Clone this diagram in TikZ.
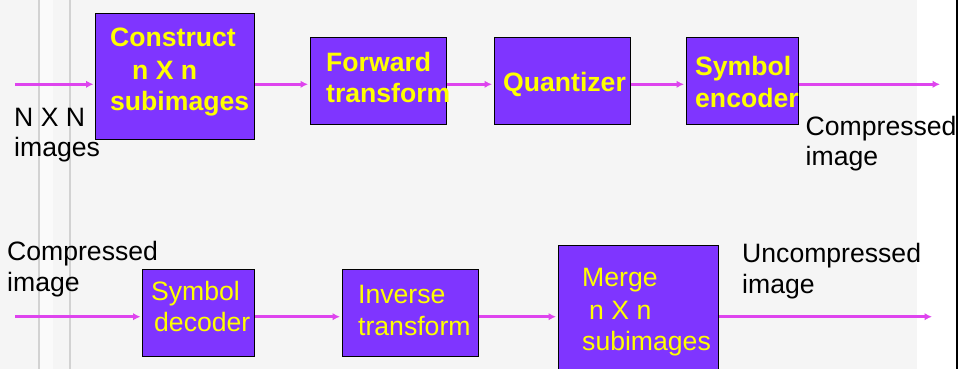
\documentclass[tikz,border=0pt]{standalone}
\usepackage{fontspec}
\setmainfont{Liberation Sans}
\usetikzlibrary{arrows.meta}
\definecolor{bgc}{HTML}{F5F5F5}
\definecolor{stripc}{HTML}{FAFAFA}
\definecolor{edgec}{HTML}{D2D2D2}
\definecolor{boxfill}{RGB}{127,53,255}
\definecolor{arrc}{RGB}{222,68,238}
\definecolor{ylw}{RGB}{255,255,0}
\begin{document}
\begin{tikzpicture}[x=1pt,y=-1pt,
  blk/.style={draw=black, line width=1.3pt, fill=boxfill, inner sep=0pt, anchor=north west},
  arr/.style={draw=arrc, line width=2.6pt, -{Latex[length=7.5pt,width=7.5pt]}},
  lbl/.style={inner sep=0pt, anchor=base west, font=\fontsize{26.6}{31}\selectfont},
  btxt/.style={lbl, text=ylw, font=\fontsize{26.6}{31}\selectfont\bfseries},
  rtxt/.style={lbl, text=ylw},
]
\useasboundingbox (0,0) rectangle (961,369);
% background
\fill[white] (0,0) rectangle (961,369);
\fill[bgc] (0,0) rectangle (917,369);
\fill[stripc] (40,0) rectangle (53,369);
\fill[edgec] (37.7,0) rectangle (40,369);
\fill[edgec] (69,0) rectangle (71,369);
\fill[black] (955.5,0) rectangle (957.5,369);

% boxes
\node[blk, minimum width=159pt, minimum height=126pt] (b1) at (95,13) {};
\node[blk, minimum width=136pt, minimum height=87pt] (b2) at (310,37) {};
\node[blk, minimum width=136pt, minimum height=87pt] (b3) at (494,37) {};
\node[blk, minimum width=112pt, minimum height=87pt] (b4) at (686,37) {};
\node[blk, minimum width=112pt, minimum height=87pt] (b5) at (142,269) {};
\node[blk, minimum width=136pt, minimum height=87pt] (b6) at (342,269) {};
\node[blk, minimum width=160pt, minimum height=135pt] (b7) at (558,245) {};

% arrows top row
\coordinate (inT) at (15,84.3);
\coordinate (outT) at (940,84.3);
\draw[arr, shorten >=1.5pt] (inT) -- (inT -| b1.west);
\draw[arr, shorten >=2pt] (b1.east |- inT) -- (b2.west |- inT);
\draw[arr, shorten >=2pt] (b2.east |- inT) -- (b3.west |- inT);
\draw[arr, shorten >=2pt] (b3.east |- inT) -- (b4.west |- inT);
\draw[arr] (b4.east |- inT) -- (outT);

% arrows bottom row
\coordinate (inB) at (15,316.7);
\coordinate (outB) at (932,316.7);
\draw[arr, shorten >=1.5pt] (inB) -- (inB -| b5.west);
\draw[arr, shorten >=2pt] (b5.east |- inB) -- (b6.west |- inB);
\draw[arr, shorten >=2pt] (b6.east |- inB) -- (b7.west |- inB);
\draw[arr] (b7.east |- inB) -- (outB);

% texts top row
\node[btxt] (t1a) at (110,46.5) {Construct};
\node[btxt] (t1b) at (132,79.5) {n X n};
\node[btxt] (t1c) at (110,110.5) {subimages};
\node[btxt] (t2a) at (326,71) {Forward};
\node[btxt] (t2b) at (326,102.5) {transform};
\node[btxt] (t3) at (503,91.5) {Quantizer};
\node[btxt] (t4a) at (695,75) {Symbol};
\node[btxt] (t4b) at (695,107) {encoder};
\node[lbl] (in1) at (14,126.5) {N X N};
\node[lbl] (in2) at (14,156.8) {images};
\node[lbl] (o1) at (805.5,135) {Compressed};
\node[lbl] (o2) at (805.5,165.8) {image};

% texts bottom row
\node[lbl] (c1) at (7,260) {Compressed};
\node[lbl] (c2) at (7,291) {image};
\node[rtxt] (t5a) at (151,300) {Symbol};
\node[rtxt] (t5b) at (154,331.5) {decoder};
\node[rtxt] (t6a) at (358,303.3) {Inverse};
\node[rtxt] (t6b) at (358,335) {transform};
\node[rtxt] (t7a) at (582,286.7) {Merge};
\node[rtxt] (t7b) at (589,319.3) {n X n};
\node[rtxt] (t7c) at (582,350) {subimages};
\node[lbl] (u1) at (742,262.3) {Uncompressed};
\node[lbl] (u2) at (742,293.3) {image};
\end{tikzpicture}
\end{document}
